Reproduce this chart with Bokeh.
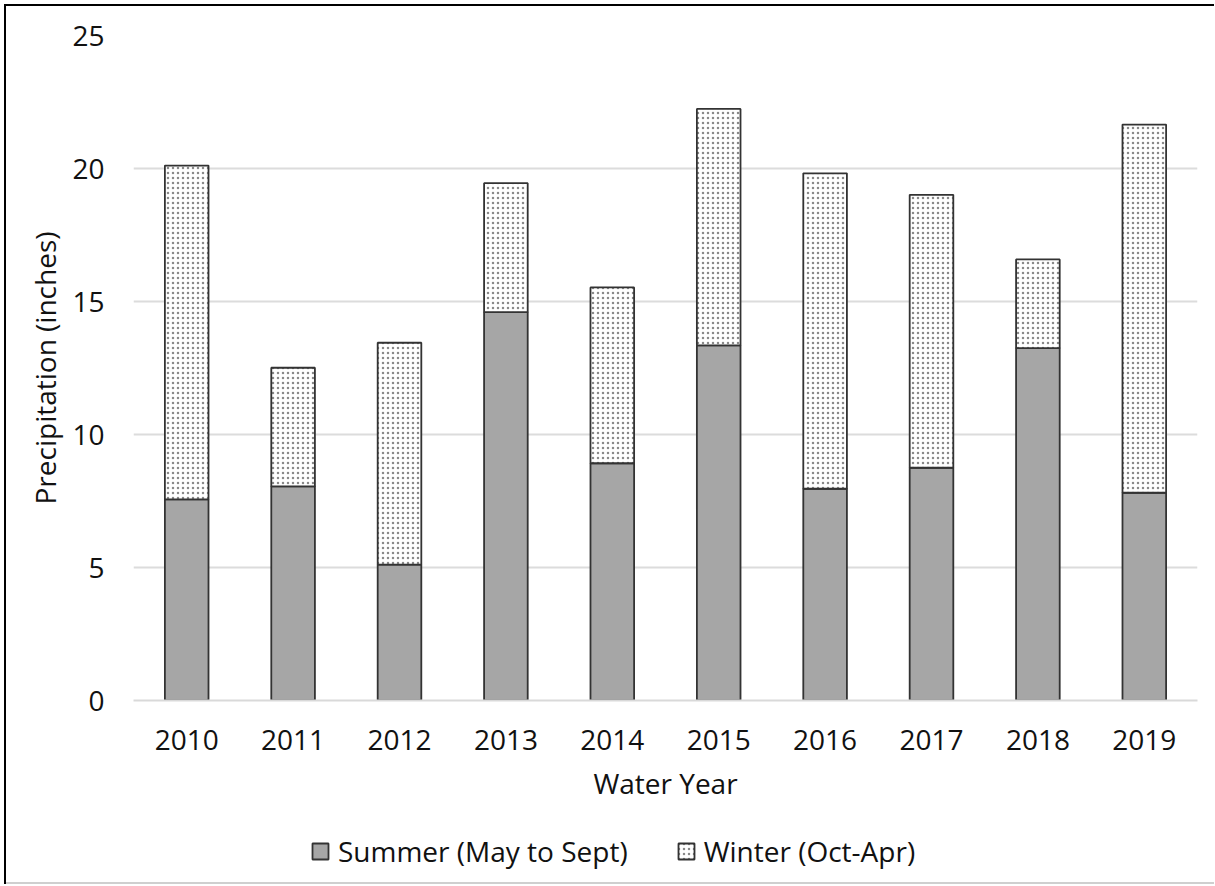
from bokeh.plotting import figure
from bokeh.layouts import column
from bokeh.models import ColumnDataSource, FactorRange, Range1d, Legend, LegendItem
from bokeh.embed import file_html
from bokeh.resources import INLINE

years = ["2010", "2011", "2012", "2013", "2014", "2015", "2016", "2017", "2018", "2019"]
summer = [7.56, 8.05, 5.11, 14.60, 8.92, 13.35, 7.96, 8.75, 13.25, 7.81]
winter = [12.55, 4.46, 8.34, 4.85, 6.61, 8.89, 11.86, 10.26, 3.33, 13.84]
y_ticks = [0, 5, 10, 15, 20, 25]
series_labels = ["Summer (May to Sept)", "Winter (Oct-Apr)"]

FONT = "Open Sans"
FS = "28px"
TXT = "#111111"
FILLS = ["#a6a6a6", "#ffffff"]
HATCH = [" ", "dot"]
STYLE = dict(line_color="#333333", line_width=1.8, hatch_color="#8a8a8a", hatch_scale=5, hatch_weight=1)

W = 1214
src = ColumnDataSource(data=dict(year=years, summer=summer, winter=winter))

p = figure(x_range=FactorRange(*years), y_range=Range1d(0, 25),
           width=W, height=815, output_backend="svg", toolbar_location=None,
           min_border_left=133, min_border_right=17, min_border_top=35, min_border_bottom=115,
           outline_line_color=None, background_fill_color="white", border_fill_alpha=0)

rs = p.vbar_stack(["summer", "winter"], x="year", width=0.41, source=src,
                  fill_color=FILLS, hatch_pattern=HATCH, **STYLE)

p.xgrid.grid_line_color = None
p.ygrid.grid_line_color = "#dcdcdc"
p.ygrid.grid_line_width = 2
p.ygrid.ticker = y_ticks

p.yaxis.ticker = y_ticks
p.yaxis.axis_line_color = None
p.yaxis.major_tick_line_color = None
p.yaxis.minor_tick_line_color = None
p.yaxis.major_label_standoff = 23
p.yaxis.axis_label = "Precipitation (inches)"
p.yaxis.axis_label_standoff = 5

p.xaxis.axis_line_color = "#d9d9d9"
p.xaxis.axis_line_width = 2
p.xaxis.major_tick_line_color = None
p.xaxis.minor_tick_line_color = None
p.xaxis.major_label_standoff = 23
p.xaxis.axis_label = "Water Year"
p.xaxis.axis_label_standoff = 11

for ax in (p.xaxis[0], p.yaxis[0]):
    ax.major_label_text_font = FONT
    ax.major_label_text_font_size = FS
    ax.major_label_text_color = TXT
    ax.axis_label_text_font = FONT
    ax.axis_label_text_font_size = FS
    ax.axis_label_text_font_style = "normal"
    ax.axis_label_text_color = TXT

# legend strip: a small figure under the chart; its bars map to no factor of its
# x range (so nothing is drawn) and only lend their styles to the legend swatches
lp = figure(x_range=FactorRange(*series_labels), y_range=Range1d(0, 25),
            width=W, height=70, output_backend="svg", toolbar_location=None,
            x_axis_type=None, y_axis_type=None,
            min_border=0, min_border_left=0, min_border_right=0, min_border_top=0, min_border_bottom=0,
            outline_line_color=None, background_fill_alpha=0, border_fill_alpha=0)
lp.xgrid.visible = False
lp.ygrid.visible = False
lr = lp.vbar_stack(["summer", "winter"], x="year", width=0.41, source=src,
                   fill_color=FILLS, hatch_pattern=HATCH, **STYLE)
legend = Legend(items=[LegendItem(label=series_labels[i], renderers=[lr[i]]) for i in range(2)],
                orientation="horizontal", location=(177, 15),
                glyph_width=20, glyph_height=20, label_standoff=8, spacing=48,
                padding=0, margin=0, border_line_color=None, background_fill_alpha=0,
                label_text_font=FONT, label_text_font_size=FS, label_text_color=TXT)
lp.add_layout(legend)

layout = column(p, lp, spacing=0)
layout.styles = {
    "background": ("linear-gradient(#000,#000) 4px 4px / 1210px 2px no-repeat, "
                   "linear-gradient(#000,#000) 4px 4px / 2px 880px no-repeat, "
                   "linear-gradient(#cfcfcf,#cfcfcf) 4px 882px / 1210px 2px no-repeat, #ffffff")
}

open("out.html", "w").write(file_html(layout, INLINE))
